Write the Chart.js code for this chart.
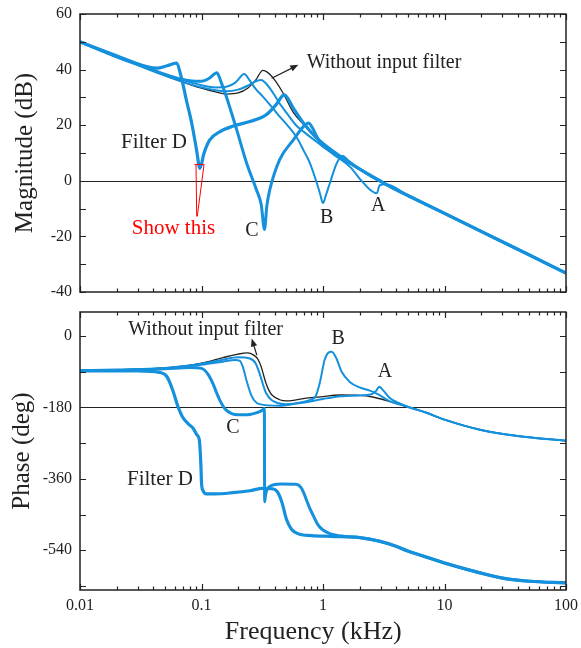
<!DOCTYPE html>
<html lang="en">
<head>
<meta charset="UTF-8">
<title>Loop gain with input filters</title>
<script src="https://cdn.jsdelivr.net/npm/chart.js"></script>
<style>
  body { margin: 0; background: #fff; }
  #wrap { position: relative; width: 581px; height: 648px; }
  #magChart { position: absolute; left: 0; top: 0; }
  #phaseChart { position: absolute; left: 0; top: 300px; }
</style>
</head>
<body>
<div id="wrap">
  <canvas id="magChart" width="581" height="300"></canvas>
  <canvas id="phaseChart" width="581" height="348"></canvas>
</div>
<script>
// tick labels
const freqTickLabels = [0.01, 0.1, 1, 10, 100];
const magTickLabels = [-40, -20, 0, 20, 40, 60];
const phaseTickLabels = [-540, -360, -180, 0];

// magnitude (dB) vs frequency (kHz)
const magFreqNone = [0.01, 0.015, 0.02, 0.03, 0.045, 0.07, 0.1, 0.13, 0.16, 0.2, 0.24, 0.28, 0.32, 0.35, 0.39, 0.47, 0.57, 0.69, 0.89, 1.22, 1.67, 2.28, 2.9, 3.54, 5, 10, 20, 50, 100];
const magNone = [50, 47, 44.6, 41.6, 38.6, 35.5, 33.3, 32, 31.2, 31.6, 33.3, 36.3, 39.7, 39, 36.9, 31.5, 24.6, 20.3, 15.5, 10.5, 6.4, 2.8, 0.2, -2, -5.3, -11.7, -18.2, -26.7, -33.2];

const magFreqA = [0.01, 0.02, 0.03, 0.045, 0.07, 0.1, 0.13, 0.16, 0.2, 0.24, 0.28, 0.31, 0.34, 0.39, 0.44, 0.5, 0.6, 0.7, 0.9, 1.22, 1.67, 2.0, 2.5, 2.77, 2.93, 3.3, 5, 10, 20, 50, 100];
const magA = [50, 44.6, 41.6, 38.6, 35.6, 33.6, 32.6, 32.2, 32.8, 34.2, 35.8, 36.3, 35, 31.5, 27.8, 24.5, 20, 17.5, 13.8, 9.5, 5, 0.8, -3.6, -4.5, -1.6, -1.2, -5.3, -11.7, -18.2, -26.7, -33.2];

const magFreqB = [0.01, 0.02, 0.03, 0.045, 0.07, 0.1, 0.13, 0.16, 0.19, 0.225, 0.25, 0.28, 0.32, 0.38, 0.44, 0.52, 0.61, 0.7, 0.78, 0.89, 0.95, 1.0, 1.06, 1.14, 1.3, 1.45, 1.6, 1.9, 2.28, 2.9, 3.54, 5, 10, 20, 50, 100];
const magB = [50, 44.6, 41.8, 39, 36.2, 34.4, 33.6, 33.8, 35.3, 38.4, 36, 33, 30.3, 26.5, 23.1, 19.5, 15.5, 10.5, 6.4, -0.8, -5, -8, -5, -0.8, 6.4, 9, 7.5, 5, 2.6, 0, -2, -5.3, -11.7, -18.2, -26.7, -33.2];

const magFreqC = [0.01, 0.02, 0.03, 0.045, 0.06, 0.08, 0.1, 0.115, 0.134, 0.145, 0.16, 0.195, 0.235, 0.283, 0.31, 0.33, 0.345, 0.365, 0.44, 0.57, 0.69, 0.76, 0.82, 0.89, 1.0, 1.22, 1.67, 2.28, 2.9, 3.54, 5, 10, 20, 50, 100];
const magC = [50, 44.6, 41.8, 39, 37.2, 36, 35.8, 36.8, 38.9, 35.5, 30.3, 18.3, 6.4, -3.2, -8.5, -17.5, -9, -3.2, 7.6, 14.7, 19.5, 20.8, 19, 15.9, 12.5, 10.3, 6.3, 2.7, 0, -2, -5.3, -11.7, -18.2, -26.7, -33.2];

const magFreqD = [0.01, 0.02, 0.0354, 0.043, 0.052, 0.062, 0.069, 0.075, 0.083, 0.091, 0.097, 0.105, 0.117, 0.142, 0.18, 0.25, 0.34, 0.41, 0.48, 0.57, 0.69, 0.89, 1.22, 1.67, 2.28, 2.9, 3.54, 5, 10, 20, 50, 100];
const magD = [50, 45, 41.1, 40.5, 41.4, 42.3, 36.3, 29.1, 20.8, 11.2, 4.5, 10, 14.7, 17.7, 19.6, 21.3, 23.7, 27.3, 30.9, 26.1, 20.8, 15.3, 10.5, 6.4, 2.8, 0.2, -2, -5.3, -11.7, -18.2, -26.7, -33.2];

// phase (deg) vs frequency (kHz)
const phaseFreqNone = [0.01, 0.02, 0.05, 0.1, 0.15, 0.2, 0.24, 0.267, 0.29, 0.31, 0.325, 0.34, 0.36, 0.38, 0.44, 0.5, 0.73, 1.0, 1.37, 2.0, 2.56, 3.5, 4.9, 7, 10, 20, 40, 100];
const phaseNone = [-88, -86, -81, -69, -55, -46, -43, -48, -58, -78, -100, -120, -138, -149, -161, -164, -157, -153, -149, -150, -154, -165, -178, -193, -211, -237, -252, -264];

const phaseFreqA = [0.01, 0.02, 0.05, 0.1, 0.15, 0.2, 0.25, 0.28, 0.3, 0.34, 0.42, 0.5, 0.7, 1.0, 1.4, 2.0, 2.5, 2.75, 2.9, 3.1, 3.5, 4.2, 4.9, 7, 10, 20, 40, 100];
const phaseA = [-88, -86, -81, -70, -60, -54, -57, -70, -94, -144, -169, -172, -168, -159, -152, -150, -147, -138, -128, -136, -155, -169, -178, -193, -211, -237, -252, -264];

const phaseFreqB = [0.01, 0.02, 0.05, 0.1, 0.15, 0.19, 0.207, 0.22, 0.234, 0.26, 0.3, 0.44, 0.6, 0.8, 0.87, 0.94, 1.03, 1.1, 1.18, 1.29, 1.42, 1.66, 2.0, 2.43, 2.8, 3.5, 4.9, 7, 10, 20, 40, 100];
const phaseB = [-88, -86, -82, -73, -65, -61, -63, -80, -111, -153, -172, -176, -170, -160, -152, -119, -61, -43, -40, -57, -90, -116, -130, -138, -146, -164, -178, -193, -211, -237, -252, -264];

const phaseFreqC = [0.01, 0.02, 0.05, 0.08, 0.1, 0.115, 0.124, 0.135, 0.142, 0.157, 0.175, 0.2, 0.25, 0.29, 0.32, 0.329, 0.331, 0.336, 0.345, 0.37, 0.45, 0.6, 0.66, 0.7, 0.73, 0.78, 0.83, 0.91, 1.0, 1.14, 1.5, 2.0, 2.9, 4, 5, 7.6, 10, 19.7, 30, 50, 100];
const phaseC = [-88, -86, -83, -80, -82, -100, -120, -148, -163, -185, -195, -199, -198, -193, -186, -183, -418, -402, -388, -378, -373, -374, -382, -398, -413, -435, -452, -476, -489, -498, -505, -508, -517, -530, -542, -560, -572, -597, -610, -618, -622];

const phaseFreqD = [0.01, 0.03, 0.045, 0.052, 0.058, 0.064, 0.07, 0.08, 0.085, 0.092, 0.096, 0.099, 0.1, 0.103, 0.11, 0.13, 0.18, 0.25, 0.32, 0.38, 0.42, 0.46, 0.5, 0.55, 0.62, 0.8, 1.15, 2, 2.9, 4, 5, 7.6, 10, 19.7, 30, 50, 100];
const phaseD = [-88, -88, -92, -103, -137, -178, -205, -225, -232, -250, -262, -330, -370, -390, -398, -398, -395, -390, -384, -385, -392, -420, -462, -487, -498, -503, -505, -508, -517, -530, -542, -560, -572, -597, -610, -618, -622];

const BLUE = '#1490dc';
const INK = '#222';
const SERIF = '"Liberation Serif", "DejaVu Serif", serif';

function series(freq, vals) {
  return freq.map((f, i) => ({ x: f, y: vals[i] }));
}

function line(label, data, color, width) {
  return {
    label, data,
    borderColor: color,
    borderWidth: width,
    pointRadius: 0,
    fill: false,
    cubicInterpolationMode: 'monotone'
  };
}

function arrow(ctx, x0, y0, x1, y1) {
  const a = Math.atan2(y1 - y0, x1 - x0), L = 8, W = 3.2;
  ctx.beginPath();
  ctx.moveTo(x0, y0);
  ctx.lineTo(x1 - L * 0.7 * Math.cos(a), y1 - L * 0.7 * Math.sin(a));
  ctx.stroke();
  ctx.beginPath();
  ctx.moveTo(x1, y1);
  ctx.lineTo(x1 - L * Math.cos(a) + W * Math.sin(a), y1 - L * Math.sin(a) - W * Math.cos(a));
  ctx.lineTo(x1 - L * Math.cos(a) - W * Math.sin(a), y1 - L * Math.sin(a) + W * Math.cos(a));
  ctx.closePath();
  ctx.fill();
}

// frame with inward ticks, reference line and text notes
const bodePlugin = {
  id: 'bode',
  beforeDatasetsDraw(chart, args, o) {
    const { ctx, chartArea: a, scales: { y } } = chart;
    const yr = Math.round(y.getPixelForValue(o.refLine)) + 0.5;
    ctx.save();
    ctx.strokeStyle = INK;
    ctx.lineWidth = 1;
    ctx.beginPath();
    ctx.moveTo(a.left, yr);
    ctx.lineTo(a.right, yr);
    ctx.stroke();
    ctx.restore();
  },
  afterDatasetsDraw(chart, args, o) {
    const { ctx, chartArea: a, scales: { x, y } } = chart;
    ctx.save();
    ctx.strokeStyle = INK;
    ctx.lineWidth = 1.5;
    ctx.strokeRect(a.left, a.top, a.right - a.left, a.bottom - a.top);

    ctx.lineWidth = 1.2;
    ctx.beginPath();
    for (let d = -2; d <= 2; d++) {
      for (let m = 1; m <= 9; m++) {
        const v = m * Math.pow(10, d);
        if (v > 100.001) break;
        const px = Math.round(x.getPixelForValue(v)) + 0.5;
        const len = m === 1 ? 6 : 3.5;
        ctx.moveTo(px, a.bottom); ctx.lineTo(px, a.bottom - len);
        ctx.moveTo(px, a.top); ctx.lineTo(px, a.top + len);
      }
    }
    for (let v = o.yTickStart; v <= o.yTickEnd; v += o.yTickStep) {
      const py = Math.round(y.getPixelForValue(v)) + 0.5;
      ctx.moveTo(a.left, py); ctx.lineTo(a.left + 6, py);
      ctx.moveTo(a.right, py); ctx.lineTo(a.right - 6, py);
    }
    ctx.stroke();

    ctx.fillStyle = INK;
    ctx.lineWidth = 1.2;
    (o.arrows || []).forEach(r => {
      arrow(ctx, x.getPixelForValue(r.from[0]), y.getPixelForValue(r.from[1]),
        x.getPixelForValue(r.to[0]), y.getPixelForValue(r.to[1]));
    });

    (o.marks || []).forEach(m => {
      ctx.strokeStyle = m.color;
      ctx.lineWidth = 1;
      ctx.beginPath();
      m.path.forEach((p, i) => {
        const px = x.getPixelForValue(p[0]), py = y.getPixelForValue(p[1]);
        if (i === 0 || p[2]) ctx.moveTo(px, py); else ctx.lineTo(px, py);
      });
      ctx.stroke();
    });

    ctx.textBaseline = 'middle';
    (o.notes || []).forEach(n => {
      ctx.font = (n.size || 20) + 'px ' + SERIF;
      ctx.fillStyle = n.color || INK;
      ctx.textAlign = n.align || 'center';
      ctx.fillText(n.text, x.getPixelForValue(n.f), y.getPixelForValue(n.v));
    });

    if (o.xTitle) {
      ctx.font = '26px ' + SERIF;
      ctx.fillStyle = INK;
      ctx.textAlign = 'center';
      ctx.fillText(o.xTitle, a.left + (a.right - a.left) * 0.48, chart.height - 16);
    }
    ctx.restore();
  }
};

// tick labels must not push the plot area around
function noLabelPadding(s) {
  s.paddingTop = 0;
  s.paddingBottom = 0;
  s.paddingLeft = 0;
  s.paddingRight = 0;
}

function yScale(min, max, labels, title, titlePad) {
  return {
    min, max,
    afterBuildTicks: s => { s.ticks = labels.map(v => ({ value: v })); },
    afterFit: s => { s.width = 80; noLabelPadding(s); },
    grid: { display: false, drawTicks: false },
    border: { display: false },
    ticks: { color: INK, padding: 8, font: { family: SERIF, size: 16 } },
    title: { display: true, text: title, color: INK, padding: { top: titlePad, bottom: 0 },
      font: { family: SERIF, size: 25, lineHeight: 1.2 } }
  };
}

new Chart(document.getElementById('magChart'), {
  type: 'line',
  data: {
    datasets: [
      line('Filter D', series(magFreqD, magD), BLUE, 3.2),
      line('Filter C', series(magFreqC, magC), BLUE, 3),
      line('Filter B', series(magFreqB, magB), BLUE, 2),
      line('Filter A', series(magFreqA, magA), BLUE, 2),
      line('Without input filter', series(magFreqNone, magNone), INK, 1.3)
    ]
  },
  options: {
    responsive: false,
    animation: false,
    layout: { autoPadding: false, padding: { left: 0, right: 15, top: 14, bottom: 8 } },
    plugins: {
      legend: { display: false },
      tooltip: { enabled: false },
      bode: {
        refLine: 0, yTickStart: -40, yTickEnd: 60, yTickStep: 10,
        arrows: [{ from: [0.378, 36.9], to: [0.627, 41.7] }],
        marks: [{ color: '#ff0000', path: [[0.0873, 5.9], [0.105, 5.9], [0.0901, 5.9, true], [0.0913, -12.8], [0.105, 5.9, true], [0.0923, -12.8]] }],
        notes: [
          { text: 'Without input filter', f: 0.734, v: 42.3, align: 'left', size: 20 },
          { text: 'Filter D', f: 0.0406, v: 13.7, size: 21 },
          { text: 'Show this', f: 0.0588, v: -17.3, size: 21, color: '#ff0000' },
          { text: 'C', f: 0.26, v: -18 },
          { text: 'B', f: 1.07, v: -13.3 },
          { text: 'A', f: 2.85, v: -9 }
        ]
      }
    },
    scales: {
      x: { type: 'logarithmic', min: 0.01, max: 100, display: false },
      y: yScale(-40, 60, magTickLabels, 'Magnitude (dB)', 10)
    }
  },
  plugins: [bodePlugin]
});

new Chart(document.getElementById('phaseChart'), {
  type: 'line',
  data: {
    datasets: [
      line('Filter D', series(phaseFreqD, phaseD), BLUE, 3.2),
      line('Filter C', series(phaseFreqC, phaseC), BLUE, 3),
      line('Filter B', series(phaseFreqB, phaseB), BLUE, 2),
      line('Filter A', series(phaseFreqA, phaseA), BLUE, 2),
      line('Without input filter', series(phaseFreqNone, phaseNone), INK, 1.3)
    ]
  },
  options: {
    responsive: false,
    animation: false,
    layout: { autoPadding: false, padding: { left: 0, right: 15, top: 12, bottom: 0 } },
    plugins: {
      legend: { display: false },
      tooltip: { enabled: false },
      bode: {
        refLine: -180, yTickStart: -630, yTickEnd: 0, yTickStep: 90,
        xTitle: 'Frequency (kHz)',
        arrows: [{ from: [0.285, -48.5], to: [0.259, -6.5] }],
        notes: [
          { text: 'Without input filter', f: 0.108, v: 14.3, size: 20 },
          { text: 'B', f: 1.33, v: -8.3 },
          { text: 'A', f: 3.24, v: -91 },
          { text: 'C', f: 0.1816, v: -232 },
          { text: 'Filter D', f: 0.0455, v: -362.6, size: 21 }
        ]
      }
    },
    scales: {
      x: {
        type: 'logarithmic', min: 0.01, max: 100,
        afterBuildTicks: s => { s.ticks = freqTickLabels.map(v => ({ value: v })); },
        afterFit: s => { s.height = 58; noLabelPadding(s); },
        grid: { display: false, drawTicks: false },
        border: { display: false },
        ticks: { color: INK, padding: 6, maxRotation: 0, autoSkip: false,
          font: { family: SERIF, size: 16 }, callback: v => String(v) }
      },
      y: yScale(-640, 60, phaseTickLabels, 'Phase (deg)', 7)
    }
  },
  plugins: [bodePlugin]
});
</script>
</body>
</html>
